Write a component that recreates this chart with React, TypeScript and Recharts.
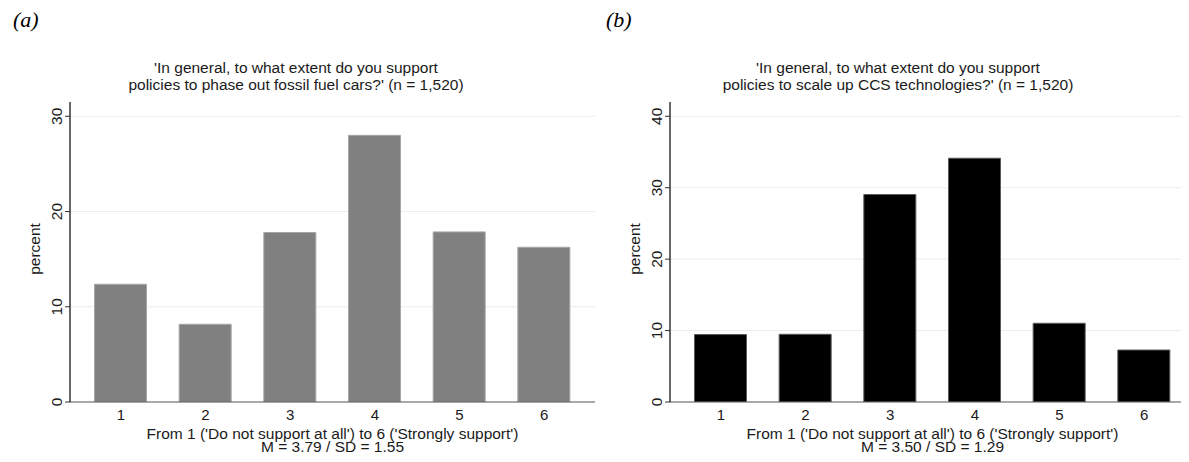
import React from 'react';
import { BarChart, Bar, XAxis, YAxis, CartesianGrid } from 'recharts';

// Response categories (1 = do not support at all ... 6 = strongly support)
const categories = ['1', '2', '3', '4', '5', '6'];

// Percent of respondents per category
const fossilCarsPct = [12.36, 8.16, 17.8, 28.0, 17.86, 16.25];
const ccsPct = [9.44, 9.48, 29.05, 34.13, 11.02, 7.28];

const fossilTicks = [0, 10, 20, 30];
const ccsTicks = [0, 10, 20, 30, 40];

const fossilTitle = [
  "'In general, to what extent do you support",
  "policies to phase out fossil fuel cars?' (n = 1,520)",
];
const ccsTitle = [
  "'In general, to what extent do you support",
  "policies to scale up CCS technologies?' (n = 1,520)",
];
const xTitle = "From 1 ('Do not support at all') to 6 ('Strongly support')";
const fossilStats = 'M = 3.79 / SD = 1.55';
const ccsStats = 'M = 3.50 / SD = 1.29';

const FONT = '"Liberation Sans", Arial, sans-serif';
const TEXT = '#1a1a1a';

const YTick = (props: any) => {
  const { x, y, payload } = props;
  const bx = x - 3;
  return (
    <text
      x={bx}
      y={y}
      transform={`rotate(-90, ${bx}, ${y})`}
      textAnchor="middle"
      fontFamily={FONT}
      fontSize={15.5}
      fill={TEXT}
    >
      {payload.value}
    </text>
  );
};

const XTick = (props: any) => {
  const { x, y, payload } = props;
  return (
    <text x={x} y={y + 18} textAnchor="middle" fontFamily={FONT} fontSize={15} fill={TEXT}>
      {payload.value}
    </text>
  );
};

type PanelProps = {
  values: number[];
  ticks: number[];
  yMax: number;
  fill: string;
  stroke: string;
  stats: string;
};

const Panel = ({ values, ticks, yMax, fill, stroke, stats }: PanelProps) => {
  const data = categories.map((c, i) => ({ cat: c, pct: values[i] }));
  return (
    <BarChart
      width={600}
      height={462}
      data={data}
      margin={{ top: 102, right: 5, bottom: 0, left: 40 }}
      barSize={52}
    >
      <CartesianGrid
        vertical={false}
        stroke="#e6eff0"
        strokeWidth={1}
        horizontalValues={ticks.filter((t) => t > 0)}
      />
      <XAxis
        dataKey="cat"
        type="category"
        height={60}
        padding={{ left: 8.5, right: 8.5 }}
        tickLine={false}
        tickSize={0}
        tickMargin={0}
        axisLine={{ stroke: '#555', strokeWidth: 1.2 }}
        tick={<XTick />}
        interval={0}
        label={(p: any) => {
          const vb = p.viewBox || {};
          const cx = vb.x + vb.width / 2;
          return (
            <g>
              <text x={cx} y={439} textAnchor="middle" fontFamily={FONT} fontSize={15.5} fill={TEXT}>
                {xTitle}
              </text>
              <text x={cx} y={452} textAnchor="middle" fontFamily={FONT} fontSize={15.5} fill={TEXT}>
                {stats}
              </text>
            </g>
          );
        }}
      />
      <YAxis
        width={30}
        domain={[0, yMax]}
        ticks={ticks}
        allowDataOverflow
        tickSize={5}
        tickMargin={0}
        tickLine={{ stroke: '#333' }}
        axisLine={{ stroke: '#000', strokeWidth: 1.2 }}
        tick={<YTick />}
        label={(p: any) => {
          const vb = p.viewBox || {};
          const lx = vb.x;
          const ly = vb.y + vb.height / 2 - 3;
          return (
            <text
              x={lx}
              y={ly}
              transform={`rotate(-90, ${lx}, ${ly})`}
              textAnchor="middle"
              fontFamily={FONT}
              fontSize={15.5}
              fill={TEXT}
            >
              percent
            </text>
          );
        }}
      />
      <Bar dataKey="pct" fill={fill} stroke={stroke} strokeWidth={1} isAnimationActive={false} />
    </BarChart>
  );
};

const Title = ({ lines, cx }: { lines: string[]; cx: number }) => (
  <div
    style={{
      position: 'absolute',
      left: cx - 300,
      width: 600,
      top: 59,
      textAlign: 'center',
      fontFamily: FONT,
      fontSize: 15.5,
      lineHeight: '17px',
      color: TEXT,
    }}
  >
    {lines.map((l) => (
      <div key={l}>{l}</div>
    ))}
  </div>
);

const PanelTag = ({ text, left }: { text: string; left: number }) => (
  <div
    style={{
      position: 'absolute',
      left,
      top: 7,
      fontFamily: '"Liberation Serif", "DejaVu Serif", serif',
      fontStyle: 'italic',
      fontSize: 22,
      color: '#000',
    }}
  >
    {text}
  </div>
);

export default function App() {
  return (
    <div
      style={{
        position: 'relative',
        width: 1189,
        height: 462,
        margin: -8,
        overflow: 'hidden',
        background: '#fff',
      }}
    >
      <PanelTag text="(a)" left={13} />
      <PanelTag text="(b)" left={606} />
      <Title lines={fossilTitle} cx={296} />
      <Title lines={ccsTitle} cx={898} />
      <div style={{ position: 'absolute', left: 0, top: 0 }}>
        <Panel values={fossilCarsPct} ticks={fossilTicks} yMax={31.5} fill="#808080" stroke="#a6a6a6" stats={fossilStats} />
      </div>
      <div style={{ position: 'absolute', left: 600, top: 0 }}>
        <Panel values={ccsPct} ticks={ccsTicks} yMax={42} fill="#000000" stroke="#5a5a5a" stats={ccsStats} />
      </div>
    </div>
  );
}
